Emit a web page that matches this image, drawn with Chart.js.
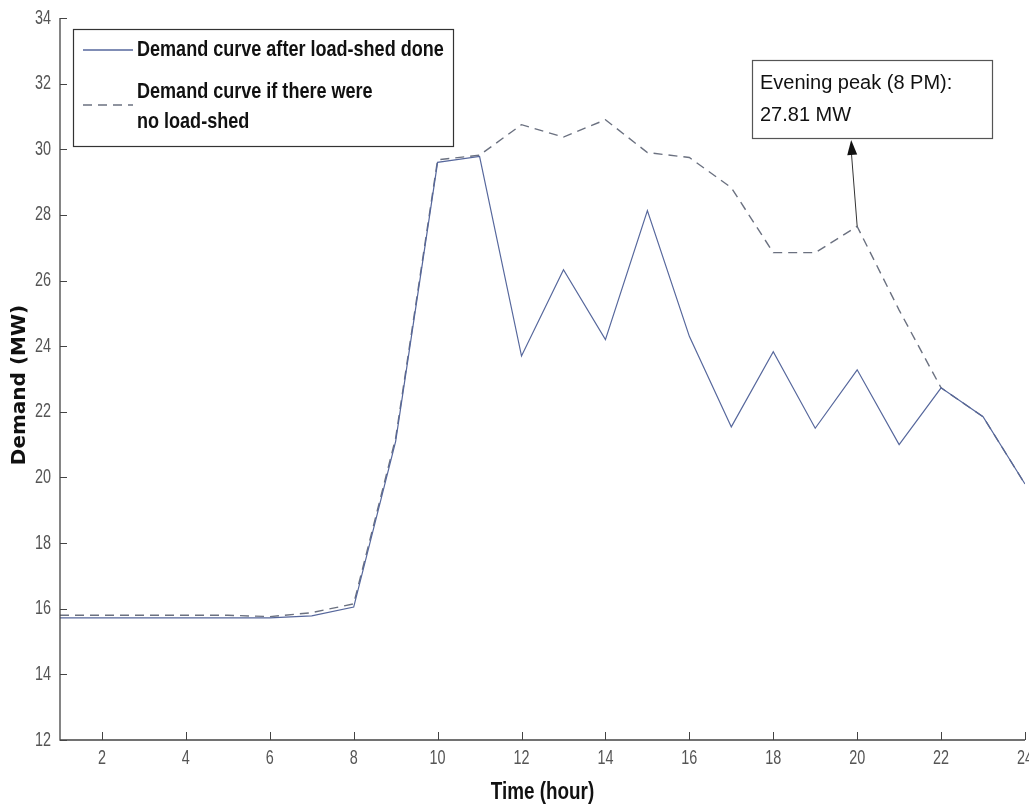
<!DOCTYPE html>
<html>
<head>
<meta charset="utf-8">
<script src="https://cdn.jsdelivr.net/npm/chart.js@4.4.1/dist/chart.umd.min.js"></script>
<style>
  html, body { margin: 0; padding: 0; background: #fff; }
  canvas { display: block; }
</style>
</head>
<body>
<canvas id="c" width="1029" height="809"></canvas>
<script>
// hours of the day
const hours = [1, 2, 3, 4, 5, 6, 7, 8, 9, 10, 11, 12, 13, 14, 15, 16, 17, 18, 19, 20, 21, 22, 23, 24];
// demand (MW) after load-shed
const afterShed = [15.72, 15.72, 15.72, 15.72, 15.72, 15.72, 15.78, 16.05, 21.1, 29.6, 29.78, 23.7,
                   26.33, 24.2, 28.13, 24.3, 21.54, 23.83, 21.5, 23.28, 21.0, 22.73, 21.85, 19.8];
// demand (MW) if there were no load-shed
const noShed = [15.8, 15.8, 15.8, 15.8, 15.8, 15.76, 15.88, 16.15, 21.2, 29.68, 29.82, 30.75,
                30.37, 30.9, 29.9, 29.75, 28.83, 26.85, 26.85, 27.65, 25.1, 22.73, 21.85, 19.8];
const xTickVals = [2, 4, 6, 8, 10, 12, 14, 16, 18, 20, 22, 24];
const yTickVals = [12, 14, 16, 18, 20, 22, 24, 26, 28, 30, 32, 34];
const legendLabels = ['Demand curve after load-shed done', ['Demand curve if there were', 'no load-shed']];
const noteLines = ['Evening peak (8 PM):', '27.81 MW'];
const xTitle = 'Time (hour)';
const yTitle = 'Demand (MW)';
const peakHour = 20;

const sans = "'Liberation Sans', Arial, sans-serif";

// text squeezed sideways, the fonts here have no narrow cut
function narrowText(ctx, text, x, y, sx, align) {
  ctx.save();
  ctx.translate(x, y);
  ctx.scale(sx, 1);
  ctx.textAlign = align;
  ctx.fillText(text, 0, 0);
  ctx.restore();
}

// axes, inward ticks, labels, legend box and the peak note
const decor = {
  id: 'decor',
  afterDraw(chart) {
    const { ctx, chartArea: a, scales: { x, y } } = chart;
    ctx.save();

    // axis lines
    ctx.strokeStyle = '#444';
    ctx.lineWidth = 1.3;
    ctx.beginPath();
    ctx.moveTo(a.left, a.top);
    ctx.lineTo(a.left, a.bottom);
    ctx.lineTo(a.right, a.bottom);
    ctx.stroke();

    ctx.lineWidth = 1;
    ctx.beginPath();
    yTickVals.forEach(v => {
      const py = Math.round(y.getPixelForValue(v)) + 0.5;
      ctx.moveTo(a.left, py);
      ctx.lineTo(a.left + 7, py);
    });
    xTickVals.forEach(v => {
      const px = Math.round(x.getPixelForValue(v)) + 0.5;
      ctx.moveTo(px, a.bottom);
      ctx.lineTo(px, a.bottom - 8);
    });
    ctx.stroke();

    // tick labels
    ctx.fillStyle = '#555';
    ctx.font = '20px ' + sans;
    ctx.textBaseline = 'middle';
    yTickVals.forEach(v => narrowText(ctx, String(v), a.left - 9, y.getPixelForValue(v), 0.72, 'right'));
    xTickVals.forEach(v => narrowText(ctx, String(v), x.getPixelForValue(v), a.bottom + 18, 0.72, 'center'));

    // axis titles
    ctx.fillStyle = '#111';
    ctx.font = 'bold 23px ' + sans;
    narrowText(ctx, xTitle, (a.left + a.right) / 2, 793, 0.82, 'center');
    ctx.save();
    ctx.translate(20, 385);
    ctx.rotate(-Math.PI / 2);
    ctx.font = "bold 20px 'DejaVu Sans', sans-serif";
    ctx.textAlign = 'center';
    ctx.fillText(yTitle, 0, 0);
    ctx.restore();

    // legend
    const ds = chart.data.datasets;
    const lx = a.left + 13, ly = 29, lw = 380, lh = 117;
    ctx.fillStyle = '#fff';
    ctx.fillRect(lx, ly, lw, lh);
    ctx.strokeStyle = '#333';
    ctx.lineWidth = 1.2;
    ctx.strokeRect(lx + 0.5, ly + 0.5, lw, lh);

    ctx.strokeStyle = ds[0].borderColor;
    ctx.lineWidth = 1.3;
    ctx.setLineDash([]);
    ctx.beginPath();
    ctx.moveTo(lx + 10, ly + 21);
    ctx.lineTo(lx + 60, ly + 21);
    ctx.stroke();

    ctx.strokeStyle = ds[1].borderColor;
    ctx.setLineDash(ds[1].borderDash);
    ctx.beginPath();
    ctx.moveTo(lx + 10, ly + 76);
    ctx.lineTo(lx + 60, ly + 76);
    ctx.stroke();
    ctx.setLineDash([]);

    ctx.font = 'bold 22px ' + sans;
    ctx.fillStyle = '#111';
    narrowText(ctx, legendLabels[0], lx + 64, ly + 21, 0.82, 'left');
    narrowText(ctx, legendLabels[1][0], lx + 64, ly + 63, 0.82, 'left');
    narrowText(ctx, legendLabels[1][1], lx + 64, ly + 93, 0.82, 'left');

    // peak note
    const nx = 752, ny = 60, nw = 240, nh = 78;
    ctx.fillStyle = '#fff';
    ctx.fillRect(nx, ny, nw, nh);
    ctx.strokeStyle = '#555';
    ctx.lineWidth = 1.2;
    ctx.strokeRect(nx + 0.5, ny + 0.5, nw, nh);
    ctx.fillStyle = '#111';
    ctx.font = '20px ' + sans;
    ctx.textAlign = 'left';
    ctx.fillText(noteLines[0], nx + 8, ny + 23);
    ctx.fillText(noteLines[1], nx + 8, ny + 55);

    // arrow from the 8 PM point up to the note
    const tx = x.getPixelForValue(peakHour);
    const ty = y.getPixelForValue(noShed[hours.indexOf(peakHour)]);
    const hx = tx - 6, hy = ny + nh + 2;
    ctx.strokeStyle = '#333';
    ctx.lineWidth = 1;
    ctx.beginPath();
    ctx.moveTo(tx, ty);
    ctx.lineTo(hx, hy + 10);
    ctx.stroke();
    const ang = Math.atan2(hy - ty, hx - tx);
    ctx.fillStyle = '#111';
    ctx.beginPath();
    ctx.moveTo(hx, hy);
    ctx.lineTo(hx - 15 * Math.cos(ang) + 5 * Math.sin(ang), hy - 15 * Math.sin(ang) - 5 * Math.cos(ang));
    ctx.lineTo(hx - 15 * Math.cos(ang) - 5 * Math.sin(ang), hy - 15 * Math.sin(ang) + 5 * Math.cos(ang));
    ctx.closePath();
    ctx.fill();

    ctx.restore();
  }
};

new Chart(document.getElementById('c'), {
  type: 'line',
  data: {
    labels: hours,
    datasets: [
      {
        label: 'after',
        data: hours.map((h, i) => ({ x: h, y: afterShed[i] })),
        borderColor: '#56679c',
        borderWidth: 1.2,
        pointRadius: 0,
        tension: 0,
        fill: false
      },
      {
        label: 'no shed',
        data: hours.map((h, i) => ({ x: h, y: noShed[i] })),
        borderColor: '#6b7180',
        borderWidth: 1.4,
        borderDash: [9, 6],
        pointRadius: 0,
        tension: 0,
        fill: false
      }
    ]
  },
  options: {
    responsive: false,
    animation: false,
    layout: { padding: { left: 0, top: 18, right: 4, bottom: 0 } },
    plugins: { legend: { display: false }, tooltip: { enabled: false } },
    scales: {
      x: {
        type: 'linear',
        min: 1,
        max: 24,
        afterFit: s => { s.height = 69; },
        grid: { display: false, drawTicks: false },
        border: { display: false },
        ticks: { display: false }
      },
      y: {
        min: 12,
        max: 34,
        afterFit: s => { s.width = 60; },
        grid: { display: false, drawTicks: false },
        border: { display: false },
        ticks: { display: false }
      }
    }
  },
  plugins: [decor]
});
</script>
</body>
</html>
